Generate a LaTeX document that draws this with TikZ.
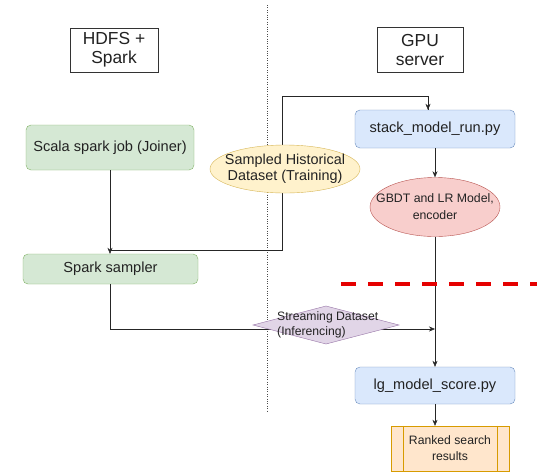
\documentclass[tikz,border=0pt]{standalone}
\usepackage{fontspec}
\setmainfont{Liberation Sans}
\usetikzlibrary{shapes.geometric,arrows.meta}
\definecolor{gfill}{HTML}{D5E8D4}\definecolor{gline}{HTML}{82B366}
\definecolor{bfill}{HTML}{DAE8FC}\definecolor{bline}{HTML}{6C8EBF}
\definecolor{yfill}{HTML}{FFF2CC}\definecolor{yline}{HTML}{D6B656}
\definecolor{rfill}{HTML}{F8CECC}\definecolor{rline}{HTML}{B85450}
\definecolor{pfill}{HTML}{E1D5E7}\definecolor{pline}{HTML}{9673A6}
\definecolor{ofill}{HTML}{FFE6CC}\definecolor{oline}{HTML}{D79B00}
\definecolor{txt}{HTML}{222222}
\tikzset{
  titlebox/.style={draw=black!80,fill=white,minimum width=88pt,minimum height=44pt,align=center,font=\fontsize{17.4}{19}\selectfont,text=txt},
  greenbox/.style={draw=gline,fill=gfill,rounded corners=5pt,align=center,font=\fontsize{14.6}{16}\selectfont,text=txt},
  bluebox/.style={draw=bline,fill=bfill,rounded corners=5pt,align=center,font=\fontsize{14.6}{16}\selectfont,text=txt},
  yell/.style={ellipse,draw=yline,fill=yfill,inner xsep=-40pt,inner ysep=-15pt,align=center,font=\fontsize{14.4}{16}\selectfont,text=txt},
  redell/.style={ellipse,draw=rline,fill=rfill,inner xsep=-40pt,inner ysep=-15pt,align=center,font=\fontsize{12.3}{17}\selectfont,text=txt},
  procbox/.style={draw=oline,fill=ofill,align=center,font=\fontsize{12.2}{16}\selectfont,text=txt},
  arr/.style={draw=black!85,-{Stealth[length=6pt,width=5pt]}},
  ln/.style={draw=black!85},
}
\begin{document}
\begin{tikzpicture}[x=1pt,y=-1pt]
\useasboundingbox (0,0) rectangle (537,472);
\fill[white] (0,0) rectangle (537,472);
% separator
\draw[black!70,dotted] (267,5) -- (267,411);
% titles
\node[titlebox] (hdfs) at (114,50) {HDFS +\\Spark};
\node[titlebox,minimum width=86pt,minimum height=45pt] (gpu) at (420,50) {GPU\\server};
% left column
\node[greenbox,minimum width=168pt,minimum height=45pt] (scala) at (110,147.5) {Scala spark job (Joiner)};
\node[greenbox,minimum width=175pt,minimum height=30pt] (spark) at (110.5,269) {Spark sampler};
% right column
\node[bluebox,minimum width=160pt,minimum height=38pt] (stack) at (435,129) {stack\_model\_run.py};
\node[redell,minimum width=130pt,minimum height=59pt] (gbdt) at (435,207) {GBDT and LR Model,\\encoder};
\node[bluebox,minimum width=160pt,minimum height=37pt] (lg) at (435,385.5) {lg\_model\_score.py};
\node[procbox,minimum width=118pt,minimum height=45pt] (ranked) at (450,448.5) {Ranked search\\results};
\draw[oline] ([xshift=12pt]ranked.north west) -- ([xshift=12pt]ranked.south west);
\draw[oline] ([xshift=-12pt]ranked.north east) -- ([xshift=-12pt]ranked.south east);
% connectors
\coordinate (j1) at (110,250);
\coordinate (up) at (282,96);
\coordinate (stin) at ([xshift=-7pt]stack.north);
\draw[ln] (j1) -- (282,250) -- (up) -| (stin);
\draw[arr] (up) -| (stin);
\draw[arr] (scala.south) -- (spark.north -| scala.south);
\draw[arr] (stack.south) -- (gbdt.north);
\draw[arr] (gbdt.south) -- (lg.north);
\draw[arr] (lg.south) -- (ranked.north -| lg.south);
\coordinate (sin) at (435,329);
\draw[arr] (spark.south -| scala.south) |- (sin);
% edge labels
\node[yell,minimum width=150pt,minimum height=48pt] (samp) at (285,169) {Sampled Historical\\Dataset (Training)};
\coordinate (sd) at (326,325);
\fill[pfill] ([xshift=-73pt]sd) -- ([yshift=-19pt]sd) -- ([xshift=73pt]sd) -- ([yshift=19pt]sd) -- cycle;
\draw[pline] ([xshift=-73pt]sd) -- ([yshift=-19pt]sd) -- ([xshift=73pt]sd) -- ([yshift=19pt]sd) -- cycle;
\node[align=left,font=\fontsize{12.2}{15}\selectfont,text=txt,anchor=west,inner sep=0pt] (sdt) at (277,325) {Streaming Dataset\\(Inferencing)};
% red dashed line
\coordinate (rd1) at (341,284);
\coordinate (rd2) at (537,284);
\draw[red!90!black,line width=3.2pt,dash pattern=on 15pt off 12pt] (rd1) -- (rd2);
\end{tikzpicture}
\end{document}
